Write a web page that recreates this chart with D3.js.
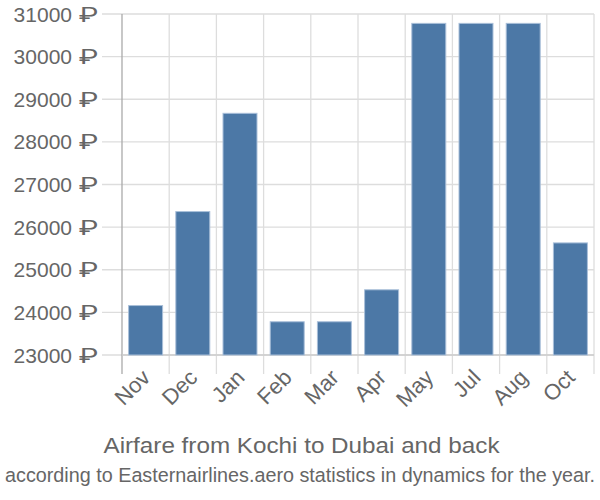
<!DOCTYPE html>
<html><head><meta charset="utf-8">
<script src="https://cdn.jsdelivr.net/npm/d3@7"></script>
<style>body{margin:0;background:#fff;} svg{display:block;}</style>
</head><body>
<script>
const months = ["Nov","Dec","Jan","Feb","Mar","Apr","May","Jul","Aug","Oct"];
const prices = [24160, 26365, 28670, 23780, 23780, 24530, 30780, 30780, 30780, 25630];
const yTicks = [23000, 24000, 25000, 26000, 27000, 28000, 29000, 30000, 31000];
const currency = "₽";
const title = "Airfare from Kochi to Dubai and back";
const subtitle = "according to Easternairlines.aero statistics in dynamics for the year.";

(function () {
const W = 600, H = 500;
const mLeft = 122, mRight = 594, mTop = 14, mBottom = 355;
const svg = d3.select("body").append("svg").attr("width", W).attr("height", H);
const font = "'Liberation Sans', Arial, sans-serif";
const textCol = "#666";

const x = d3.scaleBand().domain(months).range([mLeft, mRight]).paddingInner(0.28).paddingOuter(0.14);
const y = d3.scaleLinear().domain([23000, 31000]).range([mBottom, mTop]);

// horizontal grid
svg.append("g").selectAll("line").data(yTicks).join("line")
  .attr("x1", 102).attr("x2", mRight)
  .attr("y1", d => y(d)).attr("y2", d => y(d))
  .attr("stroke", "#ddd").attr("stroke-width", 1.3);

// vertical grid at band boundaries
const step = x.step(), gap = step - x.bandwidth();
const bounds = months.map(m => x(m) - gap / 2).concat([x(months[months.length-1]) + x.bandwidth() + gap / 2]);
svg.append("g").selectAll("line").data(bounds).join("line")
  .attr("x1", d => d).attr("x2", d => d)
  .attr("y1", mTop).attr("y2", 374)
  .attr("stroke", (d, i) => i === 0 ? "#aaa" : "#ddd").attr("stroke-width", 1.3);

// baseline
svg.append("line").attr("x1", mLeft).attr("x2", mRight).attr("y1", mBottom).attr("y2", mBottom)
  .attr("stroke", "#ccc").attr("stroke-width", 1.3);

// bars
svg.append("g").selectAll("rect").data(months).join("rect")
  .attr("x", d => x(d)).attr("width", x.bandwidth())
  .attr("y", (d, i) => y(prices[i])).attr("height", (d, i) => mBottom - y(prices[i]))
  .attr("fill", "#4c78a6").attr("stroke", "#a9bfd9").attr("stroke-width", 1);

// y labels: number + currency sign
const yl = svg.append("g").selectAll("g").data(yTicks).join("g")
  .attr("transform", d => `translate(0,${y(d)})`);
yl.append("text").attr("x", 72).attr("dy", "0.36em")
  .attr("text-anchor", "end").attr("font-family", font).attr("font-size", 21)
  .attr("fill", textCol).text(d => d);
yl.append("text").attr("x", 79).attr("dy", "0.36em")
  .attr("font-family", "Roboto, 'Noto Sans', sans-serif").attr("font-size", 21)
  .attr("textLength", 19).attr("lengthAdjust", "spacingAndGlyphs")
  .attr("fill", textCol).text(currency);

// x labels
svg.append("g").selectAll("text").data(months).join("text")
  .attr("transform", d => `translate(${x(d) + x.bandwidth()/2 - 5},${368}) rotate(-45)`)
  .attr("text-anchor", "end").attr("dy", "0.7em")
  .attr("font-family", font).attr("font-size", 22).attr("fill", textCol).text(d => d);

svg.append("text").attr("x", 301.5).attr("y", 453).attr("text-anchor", "middle")
  .attr("font-family", font).attr("font-size", 22).attr("fill", textCol)
  .attr("textLength", 396).attr("lengthAdjust", "spacingAndGlyphs").text(title);
svg.append("text").attr("transform", "translate(300,482) scale(1,1.12)").attr("text-anchor", "middle")
  .attr("font-family", font).attr("font-size", 18.5).attr("fill", textCol)
  .attr("textLength", 590).attr("lengthAdjust", "spacingAndGlyphs").text(subtitle);
})();
</script>
</body></html>
